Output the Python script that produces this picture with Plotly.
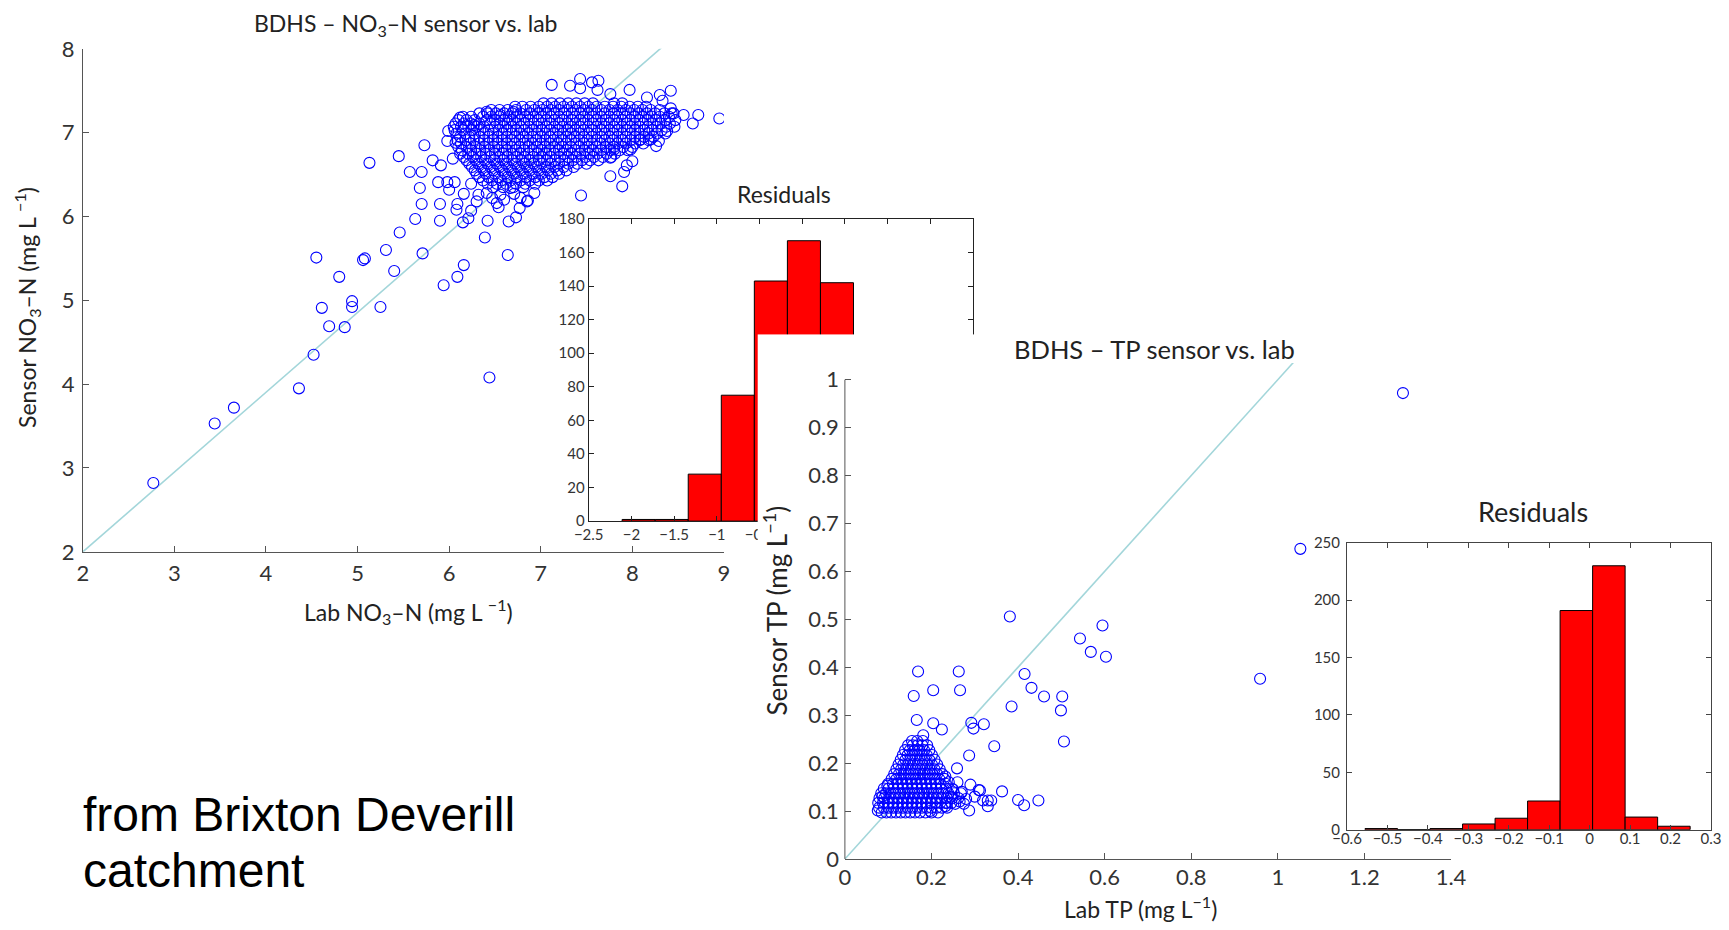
import plotly.graph_objects as go

W, H = 1729, 930
FONT = "Lato"
TXT = "#222222"
AX = "#555555"

# ---------------- NO3-N: lab vs sensor (mg/L), (lab, sensor) pairs ----------------
no3_low = [
    (2.77, 2.82), (3.44, 3.53), (3.65, 3.72), (4.36, 3.95), (4.52, 4.35), (6.44, 4.08),
    (4.61, 4.91), (4.69, 4.69), (4.86, 4.68), (4.94, 4.92), (4.94, 4.99), (5.25, 4.92),
    (4.55, 5.51), (4.80, 5.28), (5.06, 5.48), (5.08, 5.50), (5.31, 5.60), (5.40, 5.35),
    (5.46, 5.81), (5.71, 5.56), (5.94, 5.18), (6.09, 5.28), (6.16, 5.42), (6.64, 5.54),
]
no3_mid = [
    (5.63, 5.97), (5.70, 6.15), (5.90, 6.15), (5.90, 5.95), (6.08, 6.08), (6.16, 6.27),
    (6.09, 6.15), (6.24, 6.07), (6.21, 5.98), (6.15, 5.93), (6.42, 5.95), (6.39, 5.75),
    (6.54, 6.11), (6.65, 5.94), (6.73, 5.99), (6.77, 6.10), (6.86, 6.19), (6.71, 6.27),
    (6.32, 6.26), (6.41, 6.28), (6.52, 6.16), (6.56, 6.26), (6.67, 6.34), (6.78, 6.22),
    (6.85, 6.18), (7.44, 6.25), (6.30, 6.18), (6.47, 6.22), (6.60, 6.20), (6.93, 6.28),
    (5.13, 6.64), (5.45, 6.72), (5.73, 6.85), (5.57, 6.53), (5.70, 6.53), (5.82, 6.67),
    (5.91, 6.61), (5.98, 6.90), (6.04, 6.69), (5.88, 6.41), (5.98, 6.41), (6.06, 6.41),
    (6.00, 6.32), (6.24, 6.39), (5.68, 6.34), (6.07, 6.88), (5.99, 7.02),
]
no3_upper = [
    (7.12, 7.57), (7.32, 7.56), (7.43, 7.64), (7.43, 7.53), (7.56, 7.60), (7.63, 7.62),
    (7.62, 7.51), (7.76, 7.46), (7.97, 7.51), (8.16, 7.42), (8.30, 7.45), (8.42, 7.50),
    (8.33, 7.38), (8.42, 7.29), (8.45, 7.23), (8.56, 7.21), (8.72, 7.21), (8.66, 7.11),
    (8.95, 7.17), (6.41, 7.25), (6.12, 7.18), (6.56, 7.21), (6.70, 7.25), (6.27, 7.09),
]
no3_right = [
    (8.38, 7.02), (8.29, 6.90), (8.20, 6.92), (8.09, 6.92), (8.00, 6.66), (7.94, 6.61),
    (7.91, 6.53), (7.76, 6.48), (7.89, 6.36), (7.76, 6.70), (7.80, 6.80), (7.98, 6.80),
    (8.26, 6.84),
]
# dense cloud, read row by row: (sensor, [lab values])
no3_core_rows = [
    (7.35, [7.03, 7.12, 7.21, 7.30, 7.39, 7.48, 7.57, 7.80, 7.89]),
    (7.31, [6.72, 6.80, 6.89, 6.98, 7.07, 7.16, 7.25, 7.34, 7.43, 7.52, 7.61, 7.70, 7.79,
            7.88, 7.97, 8.06, 8.15]),
    (7.27, [6.46, 6.55, 6.64, 6.73, 6.84, 6.93, 7.02, 7.11, 7.20, 7.29, 7.38, 7.47, 7.56,
            7.66, 7.75, 7.84, 7.93, 8.02, 8.11, 8.20, 8.30]),
    (7.23, [6.33, 6.42, 6.51, 6.60, 6.69, 6.78, 6.88, 6.97, 7.06, 7.15, 7.25, 7.34, 7.43,
            7.52, 7.61, 7.70, 7.80, 7.89, 7.98, 8.07, 8.16, 8.25, 8.35, 8.43]),
    (7.19, [6.15, 6.24, 6.37, 6.46, 6.55, 6.65, 6.74, 6.83, 6.92, 7.01, 7.11, 7.20, 7.29,
            7.38, 7.47, 7.57, 7.66, 7.75, 7.84, 7.93, 8.03, 8.12, 8.21, 8.30, 8.40]),
    (7.15, [6.10, 6.19, 6.28, 6.41, 6.50, 6.60, 6.69, 6.78, 6.87, 6.97, 7.06, 7.15, 7.24,
            7.34, 7.43, 7.52, 7.61, 7.71, 7.80, 7.89, 7.98, 8.08, 8.17, 8.26, 8.36, 8.47]),
    (7.11, [6.07, 6.16, 6.24, 6.33, 6.45, 6.55, 6.64, 6.73, 6.82, 6.92, 7.01, 7.10, 7.20,
            7.29, 7.38, 7.47, 7.57, 7.66, 7.75, 7.84, 7.94, 8.03, 8.12, 8.22, 8.31, 8.41]),
    (7.07, [6.05, 6.13, 6.21, 6.30, 6.38, 6.50, 6.59, 6.68, 6.78, 6.87, 6.96, 7.06, 7.15,
            7.24, 7.33, 7.43, 7.52, 7.61, 7.70, 7.80, 7.89, 7.98, 8.08, 8.17, 8.27, 8.37,
            8.46]),
    (7.03, [6.06, 6.15, 6.25, 6.34, 6.43, 6.54, 6.63, 6.73, 6.82, 6.91, 7.01, 7.10, 7.19,
            7.29, 7.38, 7.47, 7.56, 7.66, 7.75, 7.84, 7.94, 8.03, 8.13, 8.22, 8.32]),
    (6.99, [6.08, 6.18, 6.28, 6.38, 6.48, 6.58, 6.68, 6.77, 6.86, 6.96, 7.05, 7.14, 7.24,
            7.33, 7.42, 7.52, 7.61, 7.70, 7.79, 7.89, 7.98, 8.08, 8.18, 8.27, 8.36]),
    (6.95, [6.12, 6.22, 6.33, 6.43, 6.53, 6.63, 6.72, 6.81, 6.91, 7.00, 7.10, 7.19, 7.28,
            7.37, 7.47, 7.56, 7.66, 7.75, 7.84, 7.93, 8.03, 8.13, 8.23]),
    (6.91, [6.09, 6.18, 6.27, 6.38, 6.48, 6.58, 6.68, 6.77, 6.86, 6.95, 7.05, 7.14, 7.23,
            7.33, 7.42, 7.51, 7.61, 7.70, 7.79, 7.89, 7.98, 8.08, 8.18]),
    (6.87, [6.13, 6.23, 6.33, 6.43, 6.53, 6.63, 6.72, 6.82, 6.91, 7.00, 7.10, 7.19, 7.28,
            7.38, 7.47, 7.56, 7.65, 7.75, 7.84, 7.93, 8.03, 8.12]),
    (6.83, [6.10, 6.19, 6.29, 6.39, 6.49, 6.58, 6.68, 6.77, 6.87, 6.96, 7.05, 7.15, 7.24,
            7.33, 7.42, 7.52, 7.61, 7.71, 7.80, 7.90, 8.00]),
    (6.79, [6.14, 6.24, 6.34, 6.44, 6.54, 6.63, 6.73, 6.82, 6.92, 7.01, 7.10, 7.20, 7.29,
            7.38, 7.48, 7.57, 7.66, 7.76, 7.86, 7.95]),
    (6.75, [6.12, 6.21, 6.30, 6.40, 6.50, 6.59, 6.69, 6.78, 6.87, 6.97, 7.06, 7.15, 7.25,
            7.34, 7.43, 7.53, 7.62, 7.72, 7.81]),
    (6.71, [6.16, 6.26, 6.35, 6.45, 6.55, 6.64, 6.74, 6.83, 6.92, 7.02, 7.11, 7.21, 7.30,
            7.39, 7.49, 7.58, 7.68, 7.77]),
    (6.67, [6.19, 6.29, 6.39, 6.49, 6.59, 6.69, 6.79, 6.88, 6.98, 7.07, 7.16, 7.26, 7.35,
            7.45, 7.54, 7.63]),
    (6.63, [6.22, 6.32, 6.42, 6.52, 6.62, 6.72, 6.82, 6.92, 7.01, 7.11, 7.20, 7.30, 7.40,
            7.50]),
    (6.59, [6.25, 6.35, 6.45, 6.55, 6.65, 6.75, 6.85, 6.95, 7.05, 7.15, 7.25, 7.36]),
    (6.55, [6.28, 6.38, 6.48, 6.58, 6.68, 6.78, 6.88, 6.98, 7.08, 7.18, 7.28]),
    (6.51, [6.30, 6.40, 6.50, 6.61, 6.71, 6.81, 6.91, 7.01, 7.11, 7.20]),
    (6.47, [6.33, 6.43, 6.54, 6.64, 6.74, 6.84, 6.94, 7.04, 7.13]),
    (6.43, [6.37, 6.47, 6.57, 6.67, 6.78, 6.88, 6.98, 7.07]),
    (6.39, [6.42, 6.52, 6.62, 6.73, 6.83, 6.94]),
    (6.35, [6.48, 6.59, 6.70, 6.81]),
]
no3_fit = {"slope": 0.952, "intercept": 0.095}

# NO3 residual histogram (10 bins)
no3_bin_centers = [-1.9155, -1.5285, -1.1415, -0.7545, -0.3675, 0.0195, 0.4065, 0.7935, 1.1805, 1.5675]
no3_bin_width = 0.387
no3_counts = [1, 1, 28, 75, 143, 167, 142, 45, 14, 4]

# ---------------- TP: lab vs sensor (mg/L), (lab, sensor) pairs ----------------
tp_sparse = [
    (0.381, 0.506), (0.595, 0.487), (0.543, 0.460), (0.568, 0.432), (0.603, 0.422),
    (0.959, 0.376), (1.052, 0.647), (1.289, 0.972), (0.169, 0.391), (0.263, 0.391),
    (0.204, 0.352), (0.266, 0.352), (0.159, 0.340), (0.415, 0.386), (0.431, 0.357),
    (0.460, 0.339), (0.502, 0.339), (0.499, 0.310), (0.385, 0.318), (0.506, 0.245),
    (0.166, 0.290), (0.204, 0.283), (0.224, 0.270), (0.181, 0.258), (0.292, 0.284),
    (0.297, 0.272), (0.321, 0.281), (0.345, 0.235), (0.287, 0.216), (0.259, 0.189),
    (0.363, 0.141), (0.312, 0.143), (0.400, 0.123), (0.414, 0.112), (0.447, 0.122),
    (0.287, 0.101), (0.319, 0.122), (0.330, 0.122), (0.338, 0.122), (0.330, 0.110),
    (0.290, 0.155), (0.232, 0.110), (0.197, 0.100), (0.076, 0.101), (0.087, 0.131),
    (0.098, 0.153),
]
tp_tail = [
    (0.270, 0.140), (0.280, 0.125), (0.260, 0.160), (0.245, 0.130), (0.300, 0.130),
    (0.275, 0.115), (0.255, 0.115), (0.309, 0.144), (0.236, 0.117), (0.240, 0.160),
    (0.232, 0.172), (0.250, 0.145), (0.265, 0.120),
]
# dense cluster, read row by row: (sensor, [lab values])
tp_core_rows = [
    (0.097, [0.085, 0.096, 0.107, 0.118, 0.129, 0.140, 0.151, 0.162, 0.173, 0.186, 0.200, 0.215]),
    (0.107, [0.079, 0.090, 0.101, 0.112, 0.123, 0.134, 0.145, 0.156, 0.167, 0.178, 0.189,
             0.200, 0.212, 0.224, 0.236]),
    (0.117, [0.077, 0.088, 0.099, 0.110, 0.121, 0.132, 0.143, 0.154, 0.165, 0.176, 0.187,
             0.198, 0.209, 0.220, 0.232, 0.246]),
    (0.127, [0.080, 0.091, 0.102, 0.113, 0.124, 0.135, 0.146, 0.157, 0.168, 0.179, 0.190,
             0.201, 0.212, 0.223, 0.235, 0.248, 0.262]),
    (0.137, [0.084, 0.095, 0.106, 0.117, 0.128, 0.139, 0.150, 0.161, 0.172, 0.183, 0.194,
             0.205, 0.216, 0.227, 0.239, 0.252, 0.268]),
    (0.147, [0.090, 0.101, 0.112, 0.123, 0.134, 0.145, 0.156, 0.167, 0.178, 0.189, 0.200,
             0.211, 0.222, 0.234, 0.247]),
    (0.157, [0.100, 0.111, 0.122, 0.133, 0.144, 0.155, 0.166, 0.177, 0.188, 0.199, 0.210,
             0.221, 0.233]),
    (0.167, [0.108, 0.119, 0.130, 0.141, 0.152, 0.163, 0.174, 0.185, 0.196, 0.207, 0.218, 0.230]),
    (0.177, [0.114, 0.125, 0.136, 0.147, 0.158, 0.169, 0.180, 0.191, 0.202, 0.213, 0.225]),
    (0.187, [0.119, 0.130, 0.141, 0.152, 0.163, 0.174, 0.185, 0.196, 0.207, 0.219]),
    (0.197, [0.124, 0.135, 0.146, 0.157, 0.168, 0.179, 0.190, 0.201, 0.213]),
    (0.207, [0.129, 0.140, 0.151, 0.162, 0.173, 0.184, 0.195, 0.207]),
    (0.217, [0.134, 0.145, 0.156, 0.167, 0.178, 0.189, 0.201]),
    (0.227, [0.139, 0.150, 0.161, 0.172, 0.183, 0.195]),
    (0.237, [0.146, 0.157, 0.168, 0.179, 0.190]),
    (0.246, [0.155, 0.167, 0.180]),
]
tp_fit = {"slope": 1.0, "intercept": 0.0}

# TP residual histogram (10 bins)
tp_bin_centers = [-0.5153, -0.4349, -0.3545, -0.2741, -0.1937, -0.1133, -0.0329, 0.0475, 0.1279, 0.2083]
tp_bin_width = 0.0804
tp_counts = [1, 0, 1, 5, 10, 25, 191, 230, 11, 3]

# Axis ranges / ticks
no3_xrange, no3_yrange = [2, 9], [2, 8]
no3_hist_xticks = [-2.5, -2, -1.5, -1, -0.5, 0, 0.5, 1, 1.5, 2]
no3_hist_yticks = list(range(0, 181, 20))
tp_xticks = [0, 0.2, 0.4, 0.6, 0.8, 1, 1.2, 1.4]
tp_yticks = [0, 0.1, 0.2, 0.3, 0.4, 0.5, 0.6, 0.7, 0.8, 0.9, 1]
tp_hist_xticks = [-0.6, -0.5, -0.4, -0.3, -0.2, -0.1, 0, 0.1, 0.2, 0.3]
tp_hist_yticks = [0, 50, 100, 150, 200, 250]

# Page placement: page pixel -> figure pixel (the figure lands in an inset frame)
INSET_X, SCALE_X = 14.5, 0.9822
INSET_Y, SCALE_Y = 13.1, 0.9724


def fx(px):
    return (px - INSET_X) / SCALE_X


def fy(py):
    return (py - INSET_Y) / SCALE_Y


def clamp01(v):
    return min(1.0, max(0.0, v))


def dom_x(a, b):
    return [clamp01(fx(a) / W), clamp01(fx(b) / W)]


def dom_y(top, bottom):
    return [clamp01(1 - fy(bottom) / H), clamp01(1 - fy(top) / H)]


def unzip(*groups):
    pts = [p for g in groups for p in g]
    return [p[0] for p in pts], [p[1] for p in pts]


def expand_rows(rows):
    return [(x, y) for y, xs in rows for x in xs]


def fmt(v):
    return ("%g" % v).replace("-", "\u2212")


MARKER = dict(symbol="circle-open", size=11, color="#0000ff", line=dict(width=1.1))
LINE_COLOR = "#a3d6da"

fig = go.Figure()

# invisible full-page subplot so every panel below paints its own white backdrop
fig.add_trace(go.Scatter(x=[0], y=[0], mode="markers", marker=dict(opacity=0),
                         xaxis="x", yaxis="y", hoverinfo="skip", showlegend=False))

# NO3 scatter + reference line
nx, ny = unzip(no3_low, no3_mid, no3_upper, no3_right, expand_rows(no3_core_rows))
fig.add_trace(go.Scatter(
    x=no3_xrange, y=[no3_fit["slope"] * v + no3_fit["intercept"] for v in no3_xrange],
    mode="lines", line=dict(color=LINE_COLOR, width=1.6), xaxis="x2", yaxis="y2",
    hoverinfo="skip", showlegend=False))
fig.add_trace(go.Scatter(x=nx, y=ny, mode="markers", xaxis="x2", yaxis="y2",
                         showlegend=False, marker=MARKER))

# NO3 residual histogram
fig.add_trace(go.Bar(
    x=no3_bin_centers, y=no3_counts, width=[no3_bin_width] * len(no3_counts),
    marker=dict(color="#ff0000", line=dict(color="#000000", width=1)),
    xaxis="x3", yaxis="y3", showlegend=False))

# white backdrop of the TP panel group
fig.add_trace(go.Scatter(x=[0], y=[0], mode="markers", marker=dict(opacity=0),
                         xaxis="x4", yaxis="y4", hoverinfo="skip", showlegend=False))

# TP scatter + reference line
tx, ty = unzip(tp_sparse, tp_tail, expand_rows(tp_core_rows))
tp_line_x = [tp_xticks[0], tp_xticks[-1]]
fig.add_trace(go.Scatter(
    x=tp_line_x, y=[tp_fit["slope"] * v + tp_fit["intercept"] for v in tp_line_x],
    mode="lines", line=dict(color=LINE_COLOR, width=1.6), xaxis="x5", yaxis="y5",
    hoverinfo="skip", showlegend=False))
fig.add_trace(go.Scatter(x=tx, y=ty, mode="markers", xaxis="x5", yaxis="y5",
                         showlegend=False, marker=MARKER))

# TP residual histogram
fig.add_trace(go.Bar(
    x=tp_bin_centers, y=tp_counts, width=[tp_bin_width] * len(tp_counts),
    marker=dict(color="#ff0000", line=dict(color="#000000", width=1)),
    xaxis="x6", yaxis="y6", showlegend=False))


def axis(domain, rng, tickvals, anchor, size, standoff, ticklen=6, mirror=False,
         showline=True, linecolor=AX):
    return dict(domain=domain, range=rng, anchor=anchor, tickmode="array",
                tickvals=tickvals, ticktext=[fmt(v) for v in tickvals],
                ticks="inside", ticklen=ticklen, tickwidth=1, tickcolor=linecolor,
                showline=showline, linecolor=linecolor, linewidth=1,
                mirror="ticks" if mirror else False,
                showgrid=False, zeroline=False, ticklabelstandoff=standoff,
                tickfont=dict(family=FONT, size=size, color="#333333"))


hidden = dict(domain=[0, 1], range=[0, 1], visible=False, showgrid=False, zeroline=False)

tp_top_val = 1.035
tp_y0 = 859.3
tp_ytop = tp_y0 - tp_top_val * 480.0

fig.update_layout(
    width=W, height=H, margin=dict(l=0, r=0, t=0, b=0),
    paper_bgcolor="white", plot_bgcolor="white", showlegend=False,
    hovermode=False, barmode="overlay",
    xaxis=dict(hidden, anchor="y"), yaxis=dict(hidden, anchor="x"),
    xaxis2=axis(dom_x(82.3, 723.5), no3_xrange, list(range(2, 10)), "y2", 22, 2),
    yaxis2=axis(dom_y(48, 551.7), no3_yrange, list(range(2, 9)), "x2", 22, 3),
    xaxis3=axis(dom_x(588.3, 972.7), [-2.5, 2], no3_hist_xticks, "y3", 15, 0,
                ticklen=5, mirror=True, linecolor="#222222"),
    yaxis3=axis(dom_y(218.3, 521), [0, 180], no3_hist_yticks, "x3", 15, 0,
                ticklen=5, mirror=True, linecolor="#222222"),
    xaxis4=dict(hidden, domain=dom_x(757.3, W), anchor="y4"),
    yaxis4=dict(hidden, domain=dom_y(334, H), anchor="x4"),
    xaxis5=axis(dom_x(844.5, 1450.7), [0, 1.4], tp_xticks, "y5", 22, -1),
    yaxis5=axis(dom_y(tp_ytop, tp_y0), [0, tp_top_val], tp_yticks, "x5", 22, 5,
                showline=False),
    xaxis6=axis(dom_x(1346.7, 1710.7), [-0.6, 0.3], tp_hist_xticks, "y6", 15, -5,
                ticklen=5, mirror=True, linecolor="#444444"),
    yaxis6=axis(dom_y(542.7, 830), [0, 250], tp_hist_yticks, "x6", 15, 3,
                ticklen=5, mirror=True, linecolor="#444444"),
)

# TP y-axis line spans the tick range only
fig.add_shape(type="line", xref="x5 domain", x0=0, x1=0, yref="y5",
              y0=tp_yticks[0], y1=tp_yticks[-1], line=dict(color=AX, width=1),
              layer="above")


def label(text, xpx, ypx, size, angle=0, color=TXT, family=FONT, xanchor="center"):
    fig.add_annotation(text=text, x=fx(xpx) / W, y=1 - fy(ypx) / H,
                       xref="paper", yref="paper", showarrow=False, textangle=angle,
                       xanchor=xanchor, yanchor="middle",
                       font=dict(family=family, size=size, color=color))


label("BDHS \u2013 NO<sub>3</sub>\u2013N sensor vs. lab", 405, 24, 23)
label("Lab NO<sub>3</sub>\u2013N (mg L <sup>\u22121</sup>)", 408, 611, 23)
label("Sensor NO<sub>3</sub>\u2013N (mg L <sup>\u22121</sup>)", 26, 307, 23, angle=-90)
label("Residuals", 783.5, 193.5, 23)
label("BDHS \u2013 TP sensor vs. lab", 1154, 349, 25.5)
label("Sensor TP (mg L<sup>\u22121</sup>)", 775, 610, 26, angle=-90)
label("Lab TP (mg L<sup>\u22121</sup>)", 1140, 908, 23)
label("Residuals", 1533, 511, 27)
label("from Brixton Deverill", 81, 815, 48, color="#000000",
      family="Liberation Sans", xanchor="left")
label("catchment", 81, 871, 48, color="#000000",
      family="Liberation Sans", xanchor="left")

fig.write_html("out.html")
